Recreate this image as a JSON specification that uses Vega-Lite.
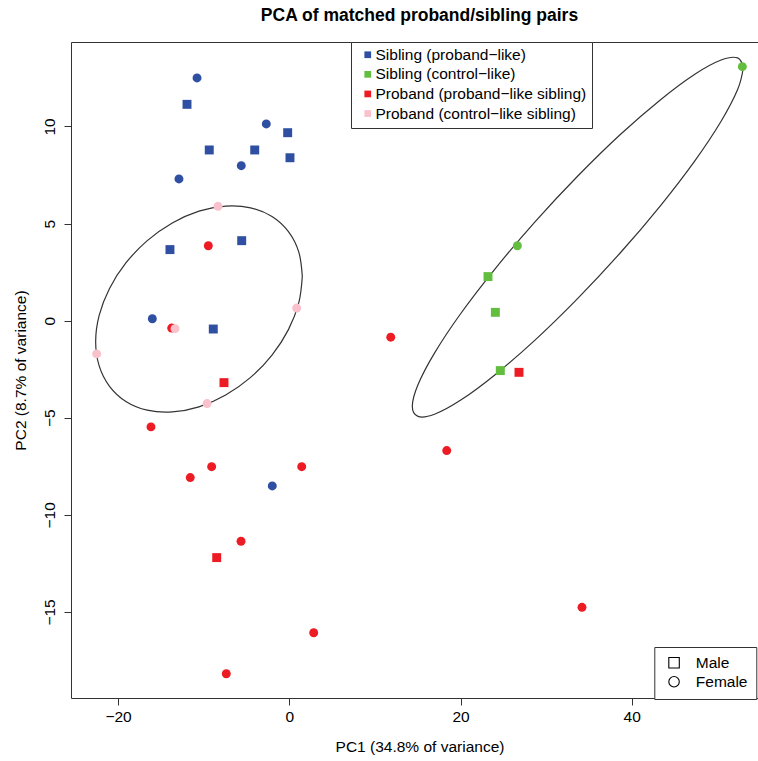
{
  "$schema": "https://vega.github.io/schema/vega-lite/v6.json",
  "width": 687,
  "height": 656,
  "autosize": {"type": "none"},
  "padding": {"left": 71, "top": 42, "right": 0, "bottom": 63},
  "background": "white",
  "title": {
    "text": "PCA of matched proband/sibling pairs",
    "fontSize": 17.5,
    "fontWeight": "bold",
    "anchor": "middle",
    "frame": "group",
    "offset": 3,
    "baseline": "alphabetic",
    "dx": 5,
    "color": "#000",
    "font": "Liberation Sans"
  },
  "datasets": {
    "points": [
      {"pc1": -10.78, "pc2": 12.50, "group": "Sibling (proband−like)", "sex": "Female"},
      {"pc1": -2.69, "pc2": 10.13, "group": "Sibling (proband−like)", "sex": "Female"},
      {"pc1": -5.61, "pc2": 7.98, "group": "Sibling (proband−like)", "sex": "Female"},
      {"pc1": -12.89, "pc2": 7.30, "group": "Sibling (proband−like)", "sex": "Female"},
      {"pc1": -16.00, "pc2": 0.10, "group": "Sibling (proband−like)", "sex": "Female"},
      {"pc1": -1.99, "pc2": -8.51, "group": "Sibling (proband−like)", "sex": "Female"},
      {"pc1": -11.95, "pc2": 11.14, "group": "Sibling (proband−like)", "sex": "Male"},
      {"pc1": -0.19, "pc2": 9.68, "group": "Sibling (proband−like)", "sex": "Male"},
      {"pc1": -9.35, "pc2": 8.79, "group": "Sibling (proband−like)", "sex": "Male"},
      {"pc1": -4.04, "pc2": 8.79, "group": "Sibling (proband−like)", "sex": "Male"},
      {"pc1": 0.08, "pc2": 8.39, "group": "Sibling (proband−like)", "sex": "Male"},
      {"pc1": -13.94, "pc2": 3.66, "group": "Sibling (proband−like)", "sex": "Male"},
      {"pc1": -5.56, "pc2": 4.12, "group": "Sibling (proband−like)", "sex": "Male"},
      {"pc1": -8.88, "pc2": -0.43, "group": "Sibling (proband−like)", "sex": "Male"},
      {"pc1": 52.92, "pc2": 13.08, "group": "Sibling (control−like)", "sex": "Female"},
      {"pc1": 26.64, "pc2": 3.86, "group": "Sibling (control−like)", "sex": "Female"},
      {"pc1": 23.21, "pc2": 2.27, "group": "Sibling (control−like)", "sex": "Male"},
      {"pc1": 24.07, "pc2": 0.43, "group": "Sibling (control−like)", "sex": "Male"},
      {"pc1": 24.65, "pc2": -2.57, "group": "Sibling (control−like)", "sex": "Male"},
      {"pc1": -9.46, "pc2": 3.86, "group": "Proband (proband−like sibling)", "sex": "Female"},
      {"pc1": -13.74, "pc2": -0.38, "group": "Proband (proband−like sibling)", "sex": "Female"},
      {"pc1": 11.85, "pc2": -0.85, "group": "Proband (proband−like sibling)", "sex": "Female"},
      {"pc1": -16.16, "pc2": -5.47, "group": "Proband (proband−like sibling)", "sex": "Female"},
      {"pc1": -9.07, "pc2": -7.52, "group": "Proband (proband−like sibling)", "sex": "Female"},
      {"pc1": -11.57, "pc2": -8.08, "group": "Proband (proband−like sibling)", "sex": "Female"},
      {"pc1": 1.45, "pc2": -7.52, "group": "Proband (proband−like sibling)", "sex": "Female"},
      {"pc1": -5.64, "pc2": -11.36, "group": "Proband (proband−like sibling)", "sex": "Female"},
      {"pc1": 2.85, "pc2": -16.07, "group": "Proband (proband−like sibling)", "sex": "Female"},
      {"pc1": -7.36, "pc2": -18.18, "group": "Proband (proband−like sibling)", "sex": "Female"},
      {"pc1": 18.39, "pc2": -6.69, "group": "Proband (proband−like sibling)", "sex": "Female"},
      {"pc1": 34.19, "pc2": -14.76, "group": "Proband (proband−like sibling)", "sex": "Female"},
      {"pc1": -7.63, "pc2": -3.19, "group": "Proband (proband−like sibling)", "sex": "Male"},
      {"pc1": -8.48, "pc2": -12.20, "group": "Proband (proband−like sibling)", "sex": "Male"},
      {"pc1": 26.83, "pc2": -2.66, "group": "Proband (proband−like sibling)", "sex": "Male"},
      {"pc1": -8.33, "pc2": 5.89, "group": "Proband (control−like sibling)", "sex": "Female"},
      {"pc1": 0.86, "pc2": 0.65, "group": "Proband (control−like sibling)", "sex": "Female"},
      {"pc1": -13.35, "pc2": -0.41, "group": "Proband (control−like sibling)", "sex": "Female"},
      {"pc1": -22.50, "pc2": -1.71, "group": "Proband (control−like sibling)", "sex": "Female"},
      {"pc1": -9.61, "pc2": -4.27, "group": "Proband (control−like sibling)", "sex": "Female"}
    ],
    "ellipses": [
      {"ellipse": "A", "i": 0, "pc1": 1.52, "pc2": 2.29},
      {"ellipse": "A", "i": 1, "pc1": 1.11, "pc2": 3.53},
      {"ellipse": "A", "i": 2, "pc1": -0.10, "pc2": 4.58},
      {"ellipse": "A", "i": 3, "pc1": -2.02, "pc2": 5.36},
      {"ellipse": "A", "i": 4, "pc1": -4.52, "pc2": 5.81},
      {"ellipse": "A", "i": 5, "pc1": -7.43, "pc2": 5.90},
      {"ellipse": "A", "i": 6, "pc1": -10.55, "pc2": 5.64},
      {"ellipse": "A", "i": 7, "pc1": -13.67, "pc2": 5.03},
      {"ellipse": "A", "i": 8, "pc1": -16.59, "pc2": 4.12},
      {"ellipse": "A", "i": 9, "pc1": -19.09, "pc2": 2.97},
      {"ellipse": "A", "i": 10, "pc1": -21.00, "pc2": 1.66},
      {"ellipse": "A", "i": 11, "pc1": -22.21, "pc2": 0.27},
      {"ellipse": "A", "i": 12, "pc1": -22.62, "pc2": -1.09},
      {"ellipse": "A", "i": 13, "pc1": -22.21, "pc2": -2.33},
      {"ellipse": "A", "i": 14, "pc1": -21.00, "pc2": -3.38},
      {"ellipse": "A", "i": 15, "pc1": -19.09, "pc2": -4.16},
      {"ellipse": "A", "i": 16, "pc1": -16.59, "pc2": -4.61},
      {"ellipse": "A", "i": 17, "pc1": -13.67, "pc2": -4.70},
      {"ellipse": "A", "i": 18, "pc1": -10.55, "pc2": -4.44},
      {"ellipse": "A", "i": 19, "pc1": -7.43, "pc2": -3.83},
      {"ellipse": "A", "i": 20, "pc1": -4.52, "pc2": -2.92},
      {"ellipse": "A", "i": 21, "pc1": -2.02, "pc2": -1.77},
      {"ellipse": "A", "i": 22, "pc1": -0.10, "pc2": -0.46},
      {"ellipse": "A", "i": 23, "pc1": 1.11, "pc2": 0.93},
      {"ellipse": "A", "i": 24, "pc1": 1.52, "pc2": 2.29},
      {"ellipse": "B", "i": 0, "pc1": 53.03, "pc2": 13.01},
      {"ellipse": "B", "i": 1, "pc1": 52.37, "pc2": 13.53},
      {"ellipse": "B", "i": 2, "pc1": 50.44, "pc2": 13.42},
      {"ellipse": "B", "i": 3, "pc1": 47.37, "pc2": 12.69},
      {"ellipse": "B", "i": 4, "pc1": 43.37, "pc2": 11.38},
      {"ellipse": "B", "i": 5, "pc1": 38.70, "pc2": 9.60},
      {"ellipse": "B", "i": 6, "pc1": 33.70, "pc2": 7.45},
      {"ellipse": "B", "i": 7, "pc1": 28.70, "pc2": 5.09},
      {"ellipse": "B", "i": 8, "pc1": 24.04, "pc2": 2.67},
      {"ellipse": "B", "i": 9, "pc1": 20.03, "pc2": 0.37},
      {"ellipse": "B", "i": 10, "pc1": 16.96, "pc2": -1.67},
      {"ellipse": "B", "i": 11, "pc1": 15.03, "pc2": -3.30},
      {"ellipse": "B", "i": 12, "pc1": 14.37, "pc2": -4.41},
      {"ellipse": "B", "i": 13, "pc1": 15.03, "pc2": -4.93},
      {"ellipse": "B", "i": 14, "pc1": 16.96, "pc2": -4.82},
      {"ellipse": "B", "i": 15, "pc1": 20.03, "pc2": -4.09},
      {"ellipse": "B", "i": 16, "pc1": 24.04, "pc2": -2.78},
      {"ellipse": "B", "i": 17, "pc1": 28.70, "pc2": -1.00},
      {"ellipse": "B", "i": 18, "pc1": 33.70, "pc2": 1.15},
      {"ellipse": "B", "i": 19, "pc1": 38.70, "pc2": 3.51},
      {"ellipse": "B", "i": 20, "pc1": 43.37, "pc2": 5.93},
      {"ellipse": "B", "i": 21, "pc1": 47.37, "pc2": 8.23},
      {"ellipse": "B", "i": 22, "pc1": 50.44, "pc2": 10.27},
      {"ellipse": "B", "i": 23, "pc1": 52.37, "pc2": 11.90},
      {"ellipse": "B", "i": 24, "pc1": 53.03, "pc2": 13.01}
    ]
  },
  "encoding": {
    "x": {
      "field": "pc1",
      "type": "quantitative",
      "scale": {"domain": [-25.5, 54.75], "nice": false, "zero": false},
      "axis": {
        "title": "PC1 (34.8% of variance)",
        "values": [-20, 0, 20, 40],
        "grid": false,
        "domain": false,
        "tickSize": 7,
        "tickColor": "#333",
        "labelFontSize": 15.5,
        "labelPadding": 4,
        "labelBaseline": "top",
        "labelColor": "#000",
        "titleFontSize": 15.5,
        "titleFontWeight": "normal",
        "titleColor": "#000",
        "titleX": 348.5,
        "titleY": 53,
        "titleBaseline": "alphabetic",
        "titleAlign": "center"
      }
    },
    "y": {
      "field": "pc2",
      "type": "quantitative",
      "scale": {"domain": [-19.43, 14.35], "nice": false, "zero": false},
      "axis": {
        "title": "PC2 (8.7% of variance)",
        "values": [-15, -10, -5, 0, 5, 10],
        "grid": false,
        "domain": false,
        "tickSize": 7,
        "tickColor": "#333",
        "labelFontSize": 15.5,
        "labelAngle": 270,
        "labelAlign": "center",
        "labelBaseline": "alphabetic",
        "labelPadding": 10,
        "labelColor": "#000",
        "titleFontSize": 15.5,
        "titleFontWeight": "normal",
        "titleColor": "#000",
        "titleAngle": 270,
        "titleX": -46,
        "titleY": 328,
        "titleAlign": "center",
        "titleBaseline": "alphabetic"
      }
    }
  },
  "layer": [
    {
      "data": {"name": "ellipses"},
      "mark": {"type": "line", "color": "#333", "strokeWidth": 1.2, "interpolate": "cardinal"},
      "encoding": {
        "detail": {"field": "ellipse", "type": "nominal"},
        "order": {"field": "i", "type": "quantitative"}
      }
    },
    {
      "data": {"name": "points"},
      "mark": {"type": "point", "filled": true, "size": 80, "opacity": 1, "strokeWidth": 0},
      "encoding": {
        "color": {
          "field": "group",
          "type": "nominal",
          "scale": {
            "domain": ["Sibling (proband−like)", "Sibling (control−like)", "Proband (proband−like sibling)", "Proband (control−like sibling)"],
            "range": ["#2F4FA2", "#63BE3F", "#ED1C24", "#F9C1CB"]
          },
          "legend": {
            "orient": "none",
            "legendX": 280,
            "legendY": 0,
            "title": null,
            "symbolType": "square",
            "symbolSize": 45,
            "symbolStrokeWidth": 0,
            "symbolOpacity": 1,
            "labelFontSize": 15.5,
            "labelColor": "#000",
            "labelLimit": 400,
            "labelExpr": "datum.label + '\u00a0\u00a0'",
            "padding": 5,
            "symbolOffset": 4,
            "labelOffset": 0,
            "rowPadding": 2.6,
            "strokeColor": "#333",
            "fillColor": "white"
          }
        },
        "shape": {
          "field": "sex",
          "type": "nominal",
          "scale": {"domain": ["Male", "Female"], "range": ["square", "circle"]},
          "legend": {
            "orient": "none",
            "legendX": 583.3,
            "legendY": 605,
            "title": null,
            "symbolSize": 110,
            "symbolFillColor": "white",
            "symbolStrokeColor": "#000",
            "symbolStrokeWidth": 1.1,
            "symbolOpacity": 1,
            "labelFontSize": 15.5,
            "labelColor": "#000",
            "padding": 8,
            "symbolOffset": 4,
            "labelOffset": 14,
            "rowPadding": 2,
            "strokeColor": "#333",
            "fillColor": "white",
            "labelExpr": "datum.label + '\u00a0\u00a0\u00a0\u00a0\u00a0\u00a0\u00a0\u00a0\u00a0\u00a0\u00a0\u00a0'",
            "encode": {
              "symbols": {
                "update": {
                  "fill": {"value": "white"},
                  "stroke": {"value": "#000"},
                  "strokeWidth": {"value": 1.1}
                }
              }
            }
          }
        }
      }
    }
  ],
  "config": {
    "font": "Liberation Sans",
    "view": {"stroke": "#333", "strokeWidth": 1}
  }
}
